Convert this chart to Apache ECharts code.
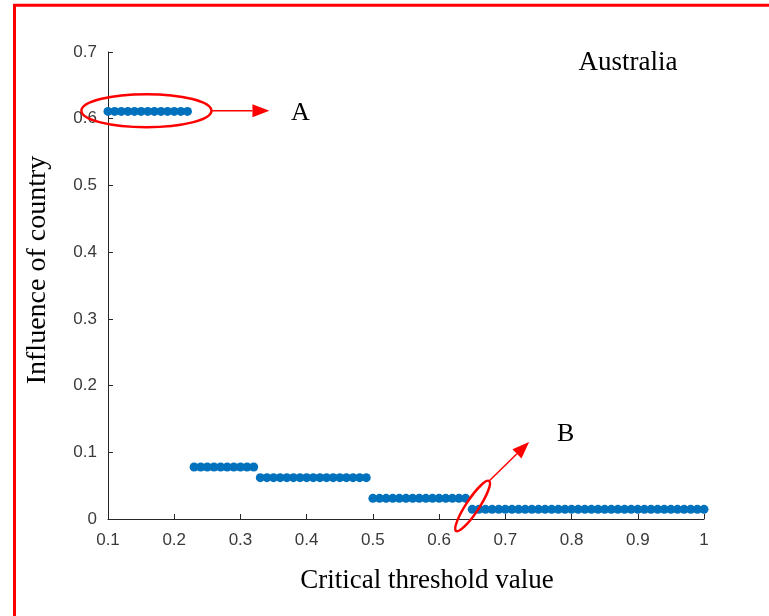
<!DOCTYPE html>
<html>
<head>
<meta charset="utf-8">
<title>Influence of country - Australia</title>
<script src="https://cdn.jsdelivr.net/npm/echarts@6/dist/echarts.min.js"></script>
<style>
  html, body { margin: 0; padding: 0; background: #ffffff; }
  #main { width: 769px; height: 616px; }
</style>
</head>
<body>
<div id="main"></div>
<script>
// Critical threshold values (x) and the influence of Australia at each one (y)
const thresholds = [
  0.10, 0.11, 0.12, 0.13, 0.14, 0.15, 0.16, 0.17, 0.18, 0.19, 0.20, 0.21, 0.22,
  0.23, 0.24, 0.25, 0.26, 0.27, 0.28, 0.29, 0.30, 0.31, 0.32,
  0.33, 0.34, 0.35, 0.36, 0.37, 0.38, 0.39, 0.40, 0.41, 0.42, 0.43, 0.44, 0.45, 0.46, 0.47, 0.48, 0.49,
  0.50, 0.51, 0.52, 0.53, 0.54, 0.55, 0.56, 0.57, 0.58, 0.59, 0.60, 0.61, 0.62, 0.63, 0.64,
  0.65, 0.66, 0.67, 0.68, 0.69, 0.70, 0.71, 0.72, 0.73, 0.74, 0.75, 0.76, 0.77, 0.78, 0.79, 0.80,
  0.81, 0.82, 0.83, 0.84, 0.85, 0.86, 0.87, 0.88, 0.89, 0.90, 0.91, 0.92, 0.93, 0.94, 0.95, 0.96,
  0.97, 0.98, 0.99, 1.00
];
const influence = [
  0.611, 0.611, 0.611, 0.611, 0.611, 0.611, 0.611, 0.611, 0.611, 0.611, 0.611, 0.611, 0.611,
  0.078, 0.078, 0.078, 0.078, 0.078, 0.078, 0.078, 0.078, 0.078, 0.078,
  0.062, 0.062, 0.062, 0.062, 0.062, 0.062, 0.062, 0.062, 0.062, 0.062, 0.062, 0.062, 0.062, 0.062, 0.062, 0.062, 0.062,
  0.031, 0.031, 0.031, 0.031, 0.031, 0.031, 0.031, 0.031, 0.031, 0.031, 0.031, 0.031, 0.031, 0.031, 0.031,
  0.0145, 0.0145, 0.0145, 0.0145, 0.0145, 0.0145, 0.0145, 0.0145, 0.0145, 0.0145, 0.0145, 0.0145, 0.0145, 0.0145, 0.0145, 0.0145,
  0.0145, 0.0145, 0.0145, 0.0145, 0.0145, 0.0145, 0.0145, 0.0145, 0.0145, 0.0145, 0.0145, 0.0145, 0.0145, 0.0145, 0.0145, 0.0145,
  0.0145, 0.0145, 0.0145, 0.0145
];

// Axis ranges and labels
const xTicks = [0.1, 0.2, 0.3, 0.4, 0.5, 0.6, 0.7, 0.8, 0.9, 1];
const yTicks = [0, 0.1, 0.2, 0.3, 0.4, 0.5, 0.6, 0.7];
const countryName = 'Australia';
const xTitle = 'Critical threshold value';
const yTitle = 'Influence of country';

// Annotated regions: A = first plateau, B = last drop
const markA = { label: 'A', center: [0.158, 0.612] };
const markB = { label: 'B', center: [0.6506, 0.0195] };

const points = thresholds.map((t, i) => [t, influence[i]]);

const serif = '"Liberation Serif", "Times New Roman", serif';
const sans = '"Liberation Sans", Arial, sans-serif';
const axisColor = '#262626';
const labelColor = '#3a3a3a';
const red = '#ff0000';

const fmt = v => String(Math.round(v * 10) / 10);

const chart = echarts.init(document.getElementById('main'), null, { renderer: 'canvas' });

chart.setOption({
  backgroundColor: '#ffffff',
  animation: false,
  grid: { left: 108, right: 65, top: 52, bottom: 97, containLabel: false },
  xAxis: {
    type: 'value',
    min: xTicks[0],
    max: xTicks[xTicks.length - 1],
    interval: 0.1,
    axisLine: { show: true, lineStyle: { color: axisColor, width: 1 } },
    axisTick: { show: true, inside: true, length: 5, lineStyle: { color: axisColor } },
    axisLabel: { color: labelColor, fontFamily: sans, fontSize: 17, margin: 13, formatter: fmt },
    splitLine: { show: false }
  },
  yAxis: {
    type: 'value',
    min: yTicks[0],
    max: yTicks[yTicks.length - 1],
    interval: 0.1,
    axisLine: { show: true, lineStyle: { color: axisColor, width: 1 } },
    axisTick: { show: true, inside: true, length: 5, lineStyle: { color: axisColor } },
    axisLabel: { color: labelColor, fontFamily: sans, fontSize: 17, margin: 11, formatter: fmt },
    splitLine: { show: false }
  },
  series: [{
    type: 'scatter',
    data: points,
    symbol: 'circle',
    symbolSize: 9,
    itemStyle: { color: '#0072BD', opacity: 1 },
    silent: true
  }]
});

// Arrow helper: a line plus a filled triangular head at the end point
function arrow(x1, y1, x2, y2) {
  const ang = Math.atan2(y2 - y1, x2 - x1);
  const headLen = 17, headHalf = 6.5;
  const bx = x2 - headLen * Math.cos(ang), by = y2 - headLen * Math.sin(ang);
  const nx = -Math.sin(ang) * headHalf, ny = Math.cos(ang) * headHalf;
  return [
    { type: 'line', shape: { x1: x1, y1: y1, x2: bx, y2: by },
      style: { stroke: red, lineWidth: 1.5 }, silent: true },
    { type: 'polygon', shape: { points: [[x2, y2], [bx + nx, by + ny], [bx - nx, by - ny]] },
      style: { fill: red, stroke: null }, silent: true }
  ];
}

const pA = chart.convertToPixel({ gridIndex: 0 }, markA.center);
const pB = chart.convertToPixel({ gridIndex: 0 }, markB.center);

const rotB = 56.6 * Math.PI / 180;
const rxB = 30, ryB = 6.5;
const tipB = [pB[0] + rxB * Math.cos(rotB), pB[1] - rxB * Math.sin(rotB)];

const elements = [
  // red frame around the figure
  { type: 'rect', shape: { x: 14.5, y: 5.3, width: 900, height: 800 },
    style: { stroke: red, lineWidth: 3, fill: null }, silent: true, z: 100 },
  // country name
  { type: 'text', x: 628, y: 63,
    style: { text: countryName, font: '27px ' + serif, fill: '#000', align: 'center', verticalAlign: 'middle' } },
  // axis titles
  { type: 'text', x: 427, y: 581,
    style: { text: xTitle, font: '27px ' + serif, fill: '#000', align: 'center', verticalAlign: 'middle' } },
  { type: 'text', x: 38, y: 270, rotation: Math.PI / 2,
    style: { text: yTitle, font: '28px ' + serif, fill: '#000', align: 'center', verticalAlign: 'middle' } },
  // annotation A
  { type: 'ellipse', shape: { cx: pA[0], cy: pA[1], rx: 65, ry: 16.5 },
    style: { stroke: red, lineWidth: 2.5, fill: null }, silent: true, z: 10 },
  ...arrow(pA[0] + 65, pA[1], pA[0] + 123, pA[1]),
  { type: 'text', x: pA[0] + 154, y: pA[1] + 2,
    style: { text: markA.label, font: '26px ' + serif, fill: '#000', align: 'center', verticalAlign: 'middle' } },
  // annotation B
  { type: 'ellipse', x: pB[0], y: pB[1], rotation: rotB,
    shape: { cx: 0, cy: 0, rx: rxB, ry: ryB },
    style: { stroke: red, lineWidth: 2.5, fill: null }, silent: true, z: 10 },
  ...arrow(tipB[0], tipB[1], tipB[0] + 40, tipB[1] - 39),
  { type: 'text', x: pB[0] + 93, y: pB[1] - 72,
    style: { text: markB.label, font: '26px ' + serif, fill: '#000', align: 'center', verticalAlign: 'middle' } }
];

chart.setOption({ graphic: { elements: elements } });
</script>
</body>
</html>
